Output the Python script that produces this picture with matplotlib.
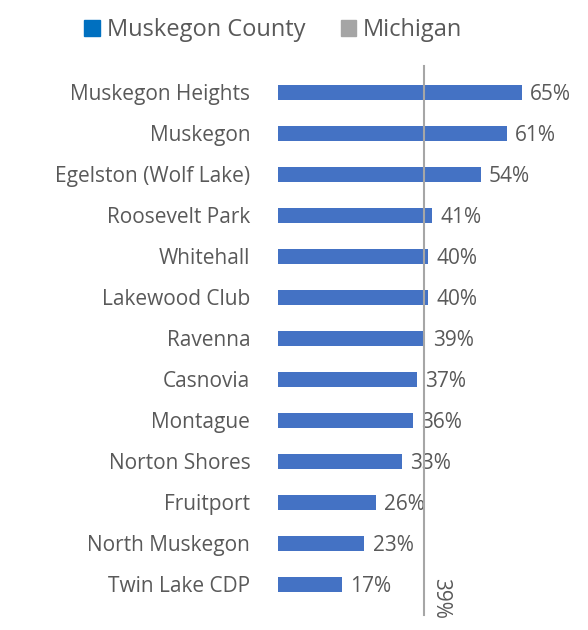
import matplotlib.pyplot as plt
from matplotlib.patches import Patch

places = ["Muskegon Heights", "Muskegon", "Egelston (Wolf Lake)", "Roosevelt Park",
          "Whitehall", "Lakewood Club", "Ravenna", "Casnovia", "Montague",
          "Norton Shores", "Fruitport", "North Muskegon", "Twin Lake CDP"]
county = [65, 61, 54, 41, 40, 40, 39, 37, 36, 33, 26, 23, 17]
michigan = 39

plt.rcParams['font.family'] = ['Open Sans', 'DejaVu Sans']
txt = '#595959'

fig = plt.figure(figsize=(5.88, 6.3), dpi=100)
ax = fig.add_axes([0.473, 0.04, 0.527, 0.846])

y = list(range(len(places)))
ax.barh(y, county, height=0.36, color='#4472C4', zorder=2)
ax.set_ylim(len(places) - 0.5, -0.5)
ax.set_xlim(0, 82.6)

for yi, v in zip(y, county):
    ax.text(v + 2.2, yi + 0.05, f"{v}%", va='center', ha='left', fontsize=15, color=txt)

ax.axvline(michigan, ymin=-0.02, ymax=1.01, color='#A6A6A6', lw=1.5, zorder=3, clip_on=False)
ax.text(michigan + 1.5, 12.35, f"{michigan}%", rotation=-90, va='center', ha='left',
        fontsize=15, color=txt)

ax.set_yticks(y)
ax.set_yticklabels(places, fontsize=15, color=txt)
ax.tick_params(axis='y', length=0, pad=20)
ax.set_xticks([])
for s in ax.spines.values():
    s.set_visible(False)

handles = [Patch(color='#0070C0', label='Muskegon County'),
           Patch(color='#A5A5A5', label='Michigan')]
fig.legend(handles=handles, loc='center', bbox_to_anchor=(0.465, 0.952), ncol=2,
           frameon=False, fontsize=17, labelcolor=txt, handlelength=0.65,
           handleheight=0.65, handletextpad=0.3, columnspacing=1.5)

fig.savefig('out.png', dpi=100)
